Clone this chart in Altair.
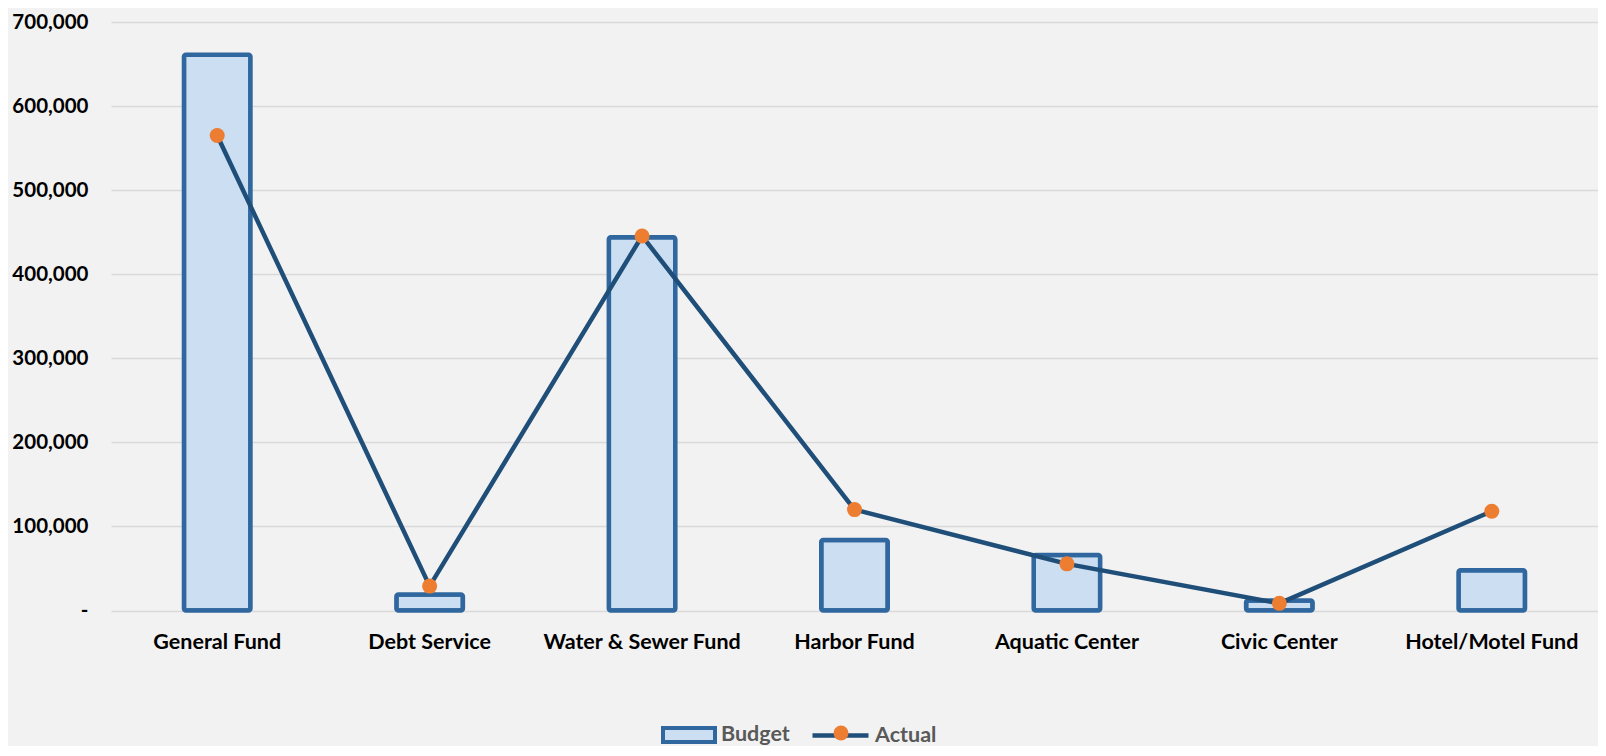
import altair as alt
import pandas as pd

categories = ["General Fund", "Debt Service", "Water & Sewer Fund", "Harbor Fund",
              "Aquatic Center", "Civic Center", "Hotel/Motel Fund"]
budget = [661000, 19000, 444000, 84000, 66000, 12000, 48000]
actual = [565000, 29000, 445500, 120000, 55500, 8500, 118000]
y_ticks = [0, 100000, 200000, 300000, 400000, 500000, 600000, 700000]

df = pd.DataFrame({
    "fund": categories,
    "budget": budget,
    "actual": actual,
    "bl": ["Budget"] * len(categories),
    "al": ["Actual"] * len(categories),
    "dot": ["dot"] * len(categories),
})

FONT = "Lato"
FS = 21.5
BAR_STROKE = "#30679f"
BAR_FILL = "#cbdef2"
LINE = "#1f4e79"
ORANGE = "#ed7d31"
NB = "\u00a0"

TOP = 14
H = 588.5
SVG_H = 738
LEG_Y = 725 - TOP  # legend row centre, relative to plot top

x_enc = alt.X(
    "fund:N", sort=categories,
    scale=alt.Scale(paddingInner=0, paddingOuter=0),
    axis=alt.Axis(title=None, labelAngle=0, ticks=False, domain=False, grid=False,
                  labelPadding=21, labelFont=FONT, labelFontWeight="bold", labelLimit=0,
                  labelFontSize=FS, labelColor="#000000"),
)

y_scale = alt.Scale(domain=[0, 700000], nice=False, zero=True)

bars = alt.Chart(df).mark_bar(
    width=alt.RelativeBandSize(0.313), stroke=BAR_STROKE, strokeWidth=4.5, cornerRadius=2
).encode(
    x=x_enc,
    y=alt.Y("budget:Q", scale=y_scale,
            axis=alt.Axis(values=y_ticks, title=None, ticks=False, domain=False,
                          labelPadding=23, labelFont=FONT, labelFontWeight="bold",
                          labelFontSize=20.5, labelColor="#000000",
                          gridColor="#d9d9d9", gridWidth=1.5,
                          labelExpr="datum.value == 0 ? '-" + NB * 3 + "' : format(datum.value, ',')")),
    fill=alt.Fill("bl:N", scale=alt.Scale(domain=["Budget"], range=[BAR_FILL]),
                  legend=alt.Legend(orient="none", legendX=550, legendY=LEG_Y - 26, title=None,
                                    padding=0, symbolType="M-1,-0.27H1V0.27H-1Z",
                                    symbolSize=2704, symbolStrokeColor=BAR_STROKE,
                                    symbolStrokeWidth=4, labelOffset=4, labelLimit=0,
                                    labelFont=FONT, labelFontWeight="bold",
                                    labelFontSize=FS, labelColor="#595959", zindex=1)),
)

line = alt.Chart(df).mark_line(strokeWidth=4.5).encode(
    x=alt.X("fund:N", sort=categories),
    y=alt.Y("actual:Q", scale=y_scale),
    stroke=alt.Stroke("al:N", scale=alt.Scale(domain=["Actual"], range=[LINE]),
                      legend=alt.Legend(orient="none", legendX=699, legendY=LEG_Y - 28, title=None,
                                        padding=0, symbolType="stroke", symbolSize=3136,
                                        symbolStrokeWidth=4.5, labelOffset=4, labelLimit=0,
                                        labelFont=FONT, labelFontWeight="bold",
                                        labelFontSize=FS, labelColor="#595959", zindex=1)),
)

points = alt.Chart(df).mark_point(filled=True, size=225, fill=ORANGE, opacity=1, strokeWidth=0).encode(
    x=alt.X("fund:N", sort=categories),
    y=alt.Y("actual:Q", scale=y_scale),
    shape=alt.Shape("dot:N", scale=alt.Scale(domain=["dot"], range=["circle"]),
                    legend=alt.Legend(orient="none", legendX=722.5, legendY=LEG_Y - 7.5, title=None,
                                      padding=0, symbolSize=225, symbolFillColor=ORANGE,
                                      symbolStrokeWidth=0, symbolOpacity=1,
                                      labelExpr="''", labelFontSize=1, zindex=3)),
)

chart = alt.layer(bars, line, points).properties(
    width=1487, height=H,
    padding={"left": 103, "top": TOP, "right": 0, "bottom": SVG_H - TOP - H},
    autosize=alt.AutoSizeParams(type="none"),
    background="#f2f2f2",
).configure_view(stroke=None)

chart.save("out.html", embed_options={"renderer": "svg", "actions": False})
